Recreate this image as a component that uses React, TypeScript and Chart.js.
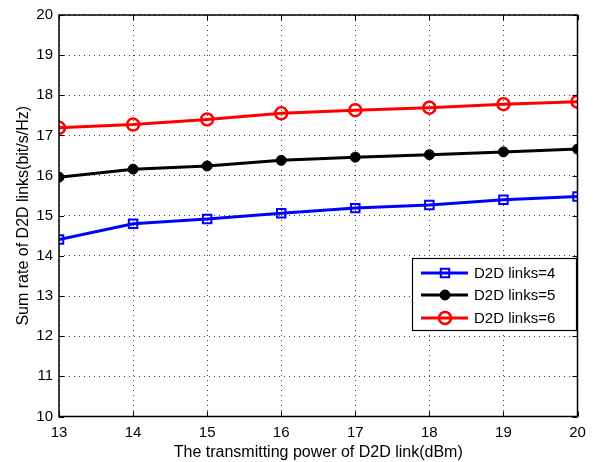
import React, { useEffect, useRef } from "react";
import { Chart, registerables } from "chart.js";

Chart.register(...registerables);

const powers = [13, 14, 15, 16, 17, 18, 19, 20];
const links4 = [14.41, 14.8, 14.92, 15.06, 15.19, 15.27, 15.4, 15.48];
const links5 = [15.96, 16.16, 16.24, 16.38, 16.46, 16.52, 16.59, 16.66];
const links6 = [17.19, 17.27, 17.4, 17.55, 17.63, 17.69, 17.78, 17.84];
const seriesLabels = ["D2D links=4", "D2D links=5", "D2D links=6"];
const xTitle = "The transmitting power of D2D link(dBm)";
const yTitle = "Sum rate of D2D links(bit/s/Hz)";

const FONT = "'Liberation Sans', Arial, sans-serif";

const frameAndLegend = {
  id: "frameAndLegend",
  afterDatasetsDraw(chart: any) {
    const { ctx, chartArea: a, scales } = chart;
    ctx.save();
    ctx.strokeStyle = "#000";
    ctx.lineWidth = 1;
    const tl = 5;
    scales.x.ticks.forEach((t: any) => {
      const px = Math.round(scales.x.getPixelForValue(t.value)) + 0.5;
      ctx.beginPath();
      ctx.moveTo(px, a.bottom);
      ctx.lineTo(px, a.bottom - tl);
      ctx.moveTo(px, a.top);
      ctx.lineTo(px, a.top + tl);
      ctx.stroke();
    });
    scales.y.ticks.forEach((t: any) => {
      const py = Math.round(scales.y.getPixelForValue(t.value)) + 0.5;
      ctx.beginPath();
      ctx.moveTo(a.left, py);
      ctx.lineTo(a.left + tl, py);
      ctx.moveTo(a.right, py);
      ctx.lineTo(a.right - tl, py);
      ctx.stroke();
    });
    ctx.lineWidth = 1.5;
    ctx.strokeRect(a.left, a.top, a.right - a.left, a.bottom - a.top);

    // legend
    const lx = 412, ly = 258, lw = 164, lh = 72;
    ctx.fillStyle = "#fff";
    ctx.fillRect(lx, ly, lw, lh);
    ctx.lineWidth = 1.2;
    ctx.strokeStyle = "#000";
    ctx.strokeRect(lx + 0.5, ly + 0.5, lw, lh);
    const rows = [273, 295, 318];
    chart.data.datasets.forEach((ds: any, i: number) => {
      const y = rows[i];
      ctx.strokeStyle = ds.borderColor;
      ctx.lineWidth = ds.borderWidth;
      ctx.beginPath();
      ctx.moveTo(421, y);
      ctx.lineTo(468, y);
      ctx.stroke();
      ctx.lineWidth = ds.pointBorderWidth;
      ctx.strokeStyle = ds.pointBorderColor;
      ctx.fillStyle = ds.pointBackgroundColor;
      const r = ds.pointRadius;
      ctx.beginPath();
      if (ds.pointStyle === "rect") {
        ctx.rect(445 - r * 0.7, y - r * 0.7, r * 1.4, r * 1.4);
      } else {
        ctx.arc(445, y, r, 0, Math.PI * 2);
      }
      ctx.fill();
      ctx.stroke();
      ctx.fillStyle = "#000";
      ctx.font = `15px ${FONT}`;
      ctx.textBaseline = "middle";
      ctx.textAlign = "left";
      ctx.fillText(ds.label, 474, y + 1);
    });
    ctx.restore();
  },
};

export default function App() {
  const ref = useRef<HTMLCanvasElement>(null);
  useEffect(() => {
    const mk = (arr: number[]) => arr.map((v, i) => ({ x: powers[i], y: v }));
    const chart = new Chart(ref.current!, {
      type: "line",
      data: {
        datasets: [
          {
            label: seriesLabels[0],
            data: mk(links4),
            borderColor: "#0000ff",
            borderWidth: 3,
            pointStyle: "rect",
            pointRadius: 6,
            pointBorderWidth: 2,
            pointBorderColor: "#0000ff",
            pointBackgroundColor: "rgba(0,0,0,0)",
          },
          {
            label: seriesLabels[1],
            data: mk(links5),
            borderColor: "#000000",
            borderWidth: 3,
            pointStyle: "circle",
            pointRadius: 5,
            pointBorderWidth: 1,
            pointBorderColor: "#000000",
            pointBackgroundColor: "#000000",
          },
          {
            label: seriesLabels[2],
            data: mk(links6),
            borderColor: "#ff0000",
            borderWidth: 3,
            pointStyle: "circle",
            pointRadius: 6,
            pointBorderWidth: 2.5,
            pointBorderColor: "#ff0000",
            pointBackgroundColor: "rgba(0,0,0,0)",
          },
        ] as any,
      },
      options: {
        animation: false,
        responsive: false,
        maintainAspectRatio: false,
        layout: { padding: { top: 10, right: 18.5, left: 0, bottom: 0 } },
        plugins: { legend: { display: false }, tooltip: { enabled: false } },
        scales: {
          x: {
            type: "linear",
            min: 13,
            max: 20,
            ticks: { stepSize: 1, color: "#000", font: { family: FONT, size: 15 }, padding: 7 },
            grid: { color: "#444", lineWidth: 1, drawTicks: false, tickLength: 0 },
            border: { display: false, dash: [1, 4] } as any,
            title: { display: true, text: xTitle, color: "#000", font: { family: FONT, size: 16 }, padding: { top: 0, bottom: 0 } },
            afterFit(s: any) { s.height = 45.5; },
          },
          y: {
            min: 10,
            max: 20,
            ticks: { stepSize: 1, color: "#000", font: { family: FONT, size: 15 }, padding: 6 },
            grid: { color: "#444", lineWidth: 1, drawTicks: false, tickLength: 0 },
            border: { display: false, dash: [1, 4] } as any,
            title: { display: true, text: yTitle, color: "#000", font: { family: FONT, size: 16 }, padding: { top: 14, bottom: 0 } },
            afterFit(s: any) { s.width = 59; },
          },
        },
      },
      plugins: [frameAndLegend],
    });
    return () => chart.destroy();
  }, []);
  return (
    <div style={{ position: "fixed", left: 0, top: 0, width: 596, height: 462, background: "#fff" }}>
      <canvas ref={ref} width={596} height={462} style={{ width: 596, height: 462 }} />
    </div>
  );
}
